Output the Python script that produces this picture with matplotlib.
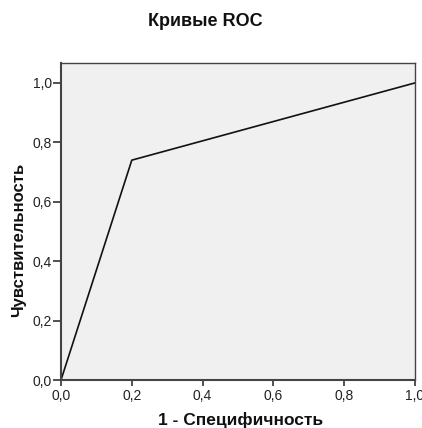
import matplotlib
matplotlib.use("Agg")
import matplotlib.pyplot as plt
from matplotlib.ticker import FuncFormatter

# ROC curve points
fpr = [0.0, 0.2, 1.0]
tpr = [0.0, 0.74, 1.0]
ticks = [0.0, 0.2, 0.4, 0.6, 0.8, 1.0]

plt.rcParams['font.family'] = ['Liberation Sans', 'DejaVu Sans']

fig = plt.figure(figsize=(4.22, 4.28), dpi=100)
ax = fig.add_axes([61 / 422, 1 - 380 / 428, 354 / 422, 317 / 428])
ax.set_facecolor('#f0f0f0')

ax.plot(fpr, tpr, color='#111111', linewidth=1.2)

ax.set_xlim(0, 1.0)
ax.set_ylim(0, 1.067)
ax.set_xticks(ticks)
ax.set_yticks(ticks)
fmt = FuncFormatter(lambda v, p: f"{v:.1f}".replace('.', ','))
ax.xaxis.set_major_formatter(fmt)
ax.yaxis.set_major_formatter(fmt)
ax.tick_params(direction='out', width=1.2, colors='#333333',
               labelsize=10, labelcolor='#222222')
ax.tick_params(axis='x', length=4.3, pad=2)
ax.tick_params(axis='y', length=6, pad=0.5)

for s in ax.spines.values():
    s.set_color('#444444')
    s.set_linewidth(1.0)
ax.spines['left'].set_linewidth(1.5)
ax.spines['bottom'].set_linewidth(1.5)

fig.text(205 / 422, 1 - 22 / 428, 'Кривые ROC', ha='center', va='center',
         fontsize=13, fontweight='bold', color='#111111')
fig.text(241 / 422, 1 - 420 / 428, '1 - Специфичность', ha='center', va='center',
         fontsize=12.5, fontweight='bold', color='#111111')
fig.text(19 / 422, 1 - 240 / 428, 'Чувствительность', ha='center', va='center',
         rotation=90, fontsize=12, fontweight='bold', color='#111111')

fig.savefig('out.png', dpi=100)
